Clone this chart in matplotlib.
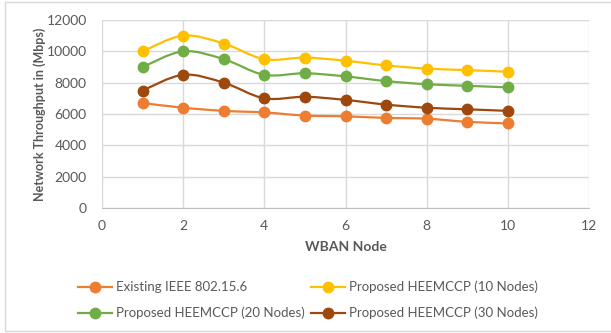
import numpy as np
from matplotlib import pyplot as plt
from matplotlib.path import Path
from matplotlib.patches import PathPatch, Rectangle
from matplotlib.lines import Line2D

plt.rcParams['font.family'] = ['Lato', 'DejaVu Sans']

nodes = [1, 2, 3, 4, 5, 6, 7, 8, 9, 10]
existing = [6700, 6400, 6200, 6100, 5900, 5850, 5750, 5700, 5500, 5400]
heem_10 = [10000, 11000, 10500, 9500, 9600, 9400, 9100, 8900, 8800, 8700]
heem_20 = [9000, 10000, 9500, 8500, 8600, 8400, 8100, 7900, 7800, 7700]
heem_30 = [7500, 8500, 8000, 7000, 7100, 6900, 6600, 6400, 6300, 6200]

labels = ["Existing IEEE 802.15.6", "Proposed HEEMCCP (10 Nodes)",
          "Proposed HEEMCCP (20 Nodes)", "Proposed HEEMCCP (30 Nodes)"]
series = [existing, heem_10, heem_20, heem_30]
colors = ["#ED7D31", "#FFC000", "#70AD47", "#9E480E"]
text_col = "#595959"


def smooth_path(x, y):
    # excel style smoothed line: bezier segments through the points
    x = np.asarray(x, float)
    y = np.asarray(y, float)
    verts = [(x[0], y[0])]
    codes = [Path.MOVETO]
    n = len(x)
    for i in range(n - 1):
        i0 = max(i - 1, 0)
        i3 = min(i + 2, n - 1)
        c1 = (x[i] + (x[i + 1] - x[i0]) / 6, y[i] + (y[i + 1] - y[i0]) / 6)
        c2 = (x[i + 1] - (x[i3] - x[i]) / 6, y[i + 1] - (y[i3] - y[i]) / 6)
        verts += [c1, c2, (x[i + 1], y[i + 1])]
        codes += [Path.CURVE4] * 3
    return Path(verts, codes)


fig = plt.figure(figsize=(6.11, 3.33), dpi=100)
ax = fig.add_axes([102 / 611, 1 - 208 / 333, 487 / 611, 188 / 333])

for vals, col in zip(series, colors):
    ax.add_patch(PathPatch(smooth_path(nodes, vals), fill=False,
                           edgecolor=col, lw=1.6, zorder=3))
    ax.plot(nodes, vals, ls='none', marker='o', ms=7.5, color=col, zorder=4)

ax.set_xlim(0, 12)
ax.set_ylim(0, 12000)
ax.set_xticks(range(0, 13, 2))
ax.set_yticks(range(0, 12001, 2000))
ax.grid(True, color="#D9D9D9", lw=1)
ax.set_axisbelow(True)
for s in ax.spines.values():
    s.set_visible(False)
ax.spines['bottom'].set_visible(True)
ax.spines['bottom'].set_color("#BFBFBF")
ax.tick_params(length=0, labelsize=10, colors=text_col)
ax.tick_params(axis='y', pad=11)
ax.tick_params(axis='x', pad=9)
ax.set_xlabel("WBAN Node", fontsize=10, fontweight='bold', color=text_col)
ax.xaxis.set_label_coords(0.5, -0.175)
ax.set_ylabel("Network Throughput in (Mbps)", fontsize=9, fontweight='bold',
              color=text_col)
ax.yaxis.set_label_coords(-0.115, 0.5)

# legend is filled column by column, so order gives rows like the original
order = [0, 2, 1, 3]
handles = [Line2D([], [], color=colors[i], marker='o', ms=7.5, lw=1.6) for i in order]
fig.legend(handles, [labels[i] for i in order], ncol=2, loc='center left',
           bbox_to_anchor=(78 / 611, 1 - 300 / 333), borderaxespad=0, borderpad=0,
           frameon=False, fontsize=9.5, labelcolor=text_col, handlelength=2.6,
           handletextpad=0.25, columnspacing=0.5, labelspacing=1.0)

fig.patches.append(Rectangle((5 / 611, 2 / 333), 1.0, 1 - 4 / 333,
                             transform=fig.transFigure, fill=False,
                             edgecolor="#D9D9D9", lw=1))

fig.savefig("out.png", dpi=100)
